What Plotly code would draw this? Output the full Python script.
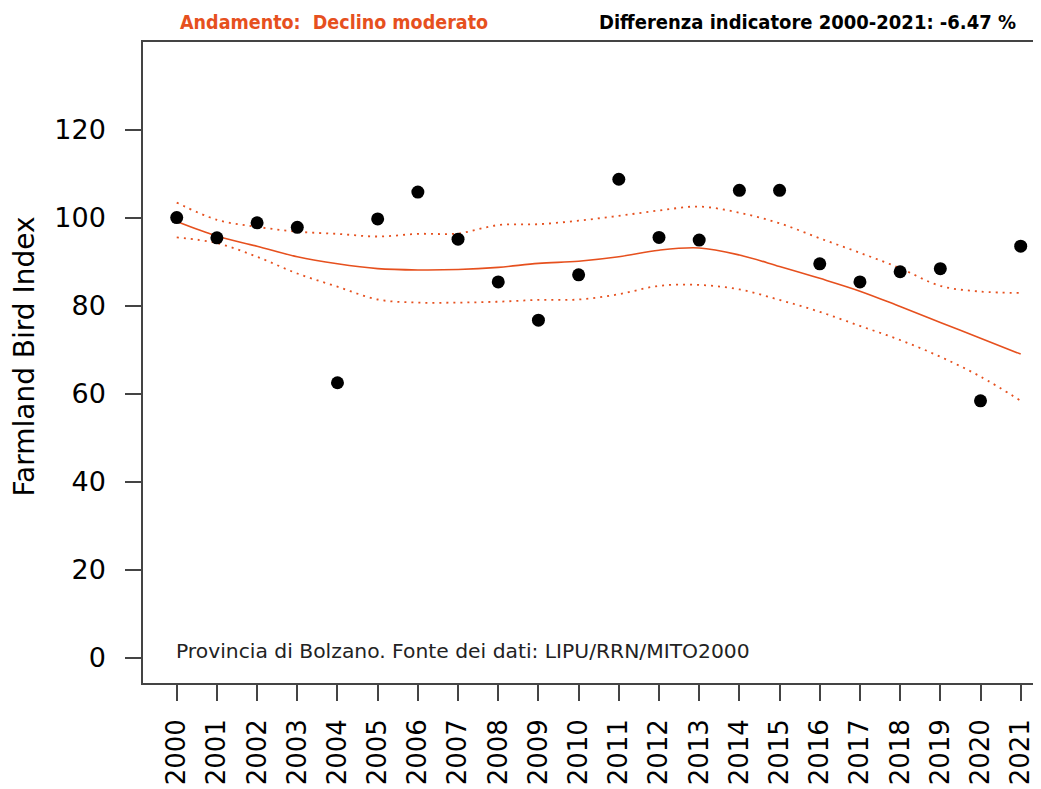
import plotly.graph_objects as go

years = list(range(2000, 2022))
index_values = [100.0, 95.4, 98.8, 97.8, 62.5, 99.7, 105.8, 95.1, 85.4, 76.7, 87.0,
                108.7, 95.5, 94.9, 106.2, 106.2, 89.5, 85.4, 87.7, 88.4, 58.4, 93.5]
trend = [99.1, 95.8, 93.5, 91.1, 89.5, 88.4, 88.1, 88.2, 88.7, 89.6, 90.1,
         91.1, 92.6, 93.1, 91.5, 88.9, 86.2, 83.3, 79.8, 76.2, 72.6, 69.0]
upper = [103.4, 99.5, 97.9, 96.8, 96.3, 95.7, 96.3, 96.4, 98.3, 98.5, 99.3,
         100.4, 101.6, 102.5, 101.1, 98.7, 95.3, 92.0, 88.5, 84.5, 83.2, 82.9]
lower = [95.5, 94.2, 91.1, 87.3, 84.3, 81.4, 80.7, 80.7, 80.9, 81.3, 81.4,
         82.6, 84.5, 84.7, 83.7, 81.3, 78.6, 75.4, 72.2, 68.4, 63.9, 58.4]
y_ticks = [0, 20, 40, 60, 80, 100, 120]

title_left = "Andamento:  Declino moderato"
title_right = "Differenza indicatore 2000-2021: -6.47 %"
source_note = "Provincia di Bolzano. Fonte dei dati: LIPU/RRN/MITO2000"
y_title = "Farmland Bird Index"

ORANGE = "#E6501E"
AXIS = "#444444"
FONT = "DejaVu Sans"
COND = "DejaVu Sans Condensed, DejaVu Sans"

fig = go.Figure()
fig.add_trace(go.Scatter(x=years, y=upper, mode="lines",
                         line=dict(color=ORANGE, width=1.8, dash="2px,5px", shape="spline"),
                         hoverinfo="skip"))
fig.add_trace(go.Scatter(x=years, y=lower, mode="lines",
                         line=dict(color=ORANGE, width=1.8, dash="2px,5px", shape="spline"),
                         hoverinfo="skip"))
fig.add_trace(go.Scatter(x=years, y=trend, mode="lines",
                         line=dict(color=ORANGE, width=1.6, shape="spline")))
fig.add_trace(go.Scatter(x=years, y=index_values, mode="markers",
                         marker=dict(color="black", size=13)))

fig.update_layout(
    width=1033, height=781,
    margin=dict(l=135, r=0, t=34, b=106),
    paper_bgcolor="white", plot_bgcolor="white",
    showlegend=False,
    font=dict(family=FONT, color="black"),
    xaxis=dict(
        range=[1999.161, 2021.505],
        tickmode="array", tickvals=years, ticktext=[str(y) for y in years],
        tickangle=-90, ticks="outside", ticklen=16, tickwidth=1.5, tickcolor=AXIS,
        tickfont=dict(size=26, family=FONT, color="black"),
        showline=True, linecolor=AXIS, linewidth=1.5, mirror=True,
        showgrid=False, zeroline=False, ticklabelstandoff=8, automargin=False,
    ),
    yaxis=dict(
        range=[-5.68, 139.87],
        tickmode="array", tickvals=y_ticks, ticktext=[str(v) for v in y_ticks],
        ticks="outside", ticklen=16, tickwidth=1.5, tickcolor=AXIS,
        tickfont=dict(size=27, family=FONT, color="black"),
        showline=True, linecolor=AXIS, linewidth=1.5, mirror=False,
        showgrid=False, zeroline=False, ticklabelstandoff=14, automargin=False,
    ),
    annotations=[
        dict(text=f"<b>{title_left}</b>", x=35 / 898, y=1.0, xref="paper", yref="paper",
             xanchor="left", yanchor="bottom", yshift=6, showarrow=False,
             font=dict(size=19.5, family=COND, color=ORANGE)),
        dict(text=f"<b>{title_right}</b>", x=875 / 898, y=1.0, xref="paper", yref="paper",
             xanchor="right", yanchor="bottom", yshift=6, showarrow=False,
             font=dict(size=20, family=COND, color="black")),
        dict(text=source_note, x=1999.93, y=1.5, xref="x", yref="y",
             xanchor="left", yanchor="middle", showarrow=False,
             font=dict(size=20.3, family=FONT, color="#222222")),
        dict(text=y_title, x=-119 / 898, y=0.5, xref="paper", yref="paper",
             xanchor="center", yanchor="middle", yshift=6, textangle=-90, showarrow=False,
             font=dict(size=28, family=FONT, color="black")),
    ],
)

fig.write_html("out.html")
